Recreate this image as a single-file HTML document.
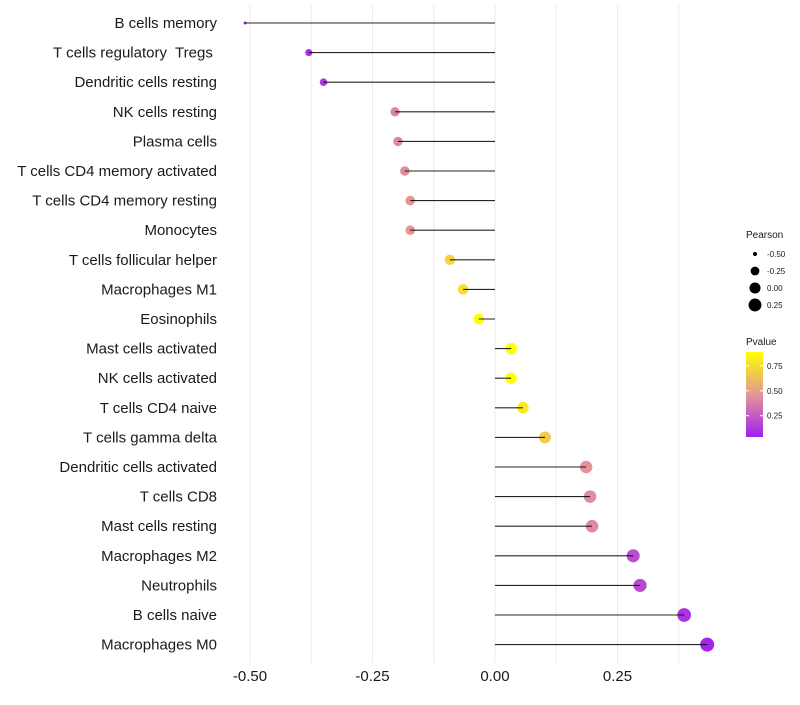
<!DOCTYPE html>
<html><head><meta charset="utf-8"><style>
body{margin:0;background:#fff;width:800px;height:700px;overflow:hidden}
svg text{font-family:"Liberation Sans",sans-serif;white-space:pre}
</style></head><body>
<svg id="chart" width="800" height="700"></svg>
<script>
const categories=["B cells memory","T cells regulatory  Tregs ","Dendritic cells resting","NK cells resting","Plasma cells","T cells CD4 memory activated","T cells CD4 memory resting","Monocytes","T cells follicular helper","Macrophages M1","Eosinophils","Mast cells activated","NK cells activated","T cells CD4 naive","T cells gamma delta","Dendritic cells activated","T cells CD8","Mast cells resting","Macrophages M2","Neutrophils","B cells naive","Macrophages M0"];
const pearson=[-0.51,-0.38,-0.35,-0.204,-0.198,-0.184,-0.173,-0.173,-0.092,-0.065,-0.033,0.033,0.033,0.057,0.102,0.186,0.194,0.198,0.282,0.296,0.386,0.433];
const pvalue=[0.03,0.1,0.12,0.4,0.41,0.43,0.46,0.46,0.72,0.76,0.9,0.9,0.9,0.8,0.68,0.45,0.43,0.42,0.2,0.18,0.1,0.05];
const xTicks=[-0.5,-0.25,0,0.25];
const xTickLabels=["-0.50","-0.25","0.00","0.25"];
const xMinor=[-0.375,-0.125,0.125,0.375];
const sizeLegend=[-0.5,-0.25,0,0.25];
const sizeLegendLabels=["-0.50","-0.25","0.00","0.25"];
const colorLegend=[0.25,0.5,0.75];

const NS="http://www.w3.org/2000/svg";
const svg=document.getElementById('chart');
function el(t,a,p){const e=document.createElementNS(NS,t);for(const k in a)e.setAttribute(k,a[k]);(p||svg).appendChild(e);return e;}
const x=v=>495+v*490;
const y=i=>23+i*29.6;
const pmin=-0.51,pmax=0.433;
const r=v=>1.5+5.5*Math.sqrt(Math.max(0,(v-pmin)/(pmax-pmin)));
const stops=[[0.036,[160,32,240]],[0.46,[228,150,150]],[0.89,[255,255,0]]];
function col(p){p=Math.max(stops[0][0],Math.min(stops[2][0],p));let a=stops[0],b=stops[1];if(p>stops[1][0]){a=stops[1];b=stops[2];}
const t=(p-a[0])/(b[0]-a[0]);const c=a[1].map((v,i)=>Math.round(v+(b[1][i]-v)*t));return `rgb(${c})`;}

[...xMinor,...xTicks].forEach(v=>{const g=el('line',{x1:x(v),x2:x(v),y1:5,y2:663,stroke:'#ebebeb','stroke-width':1});

});
xTicks.forEach((v,i)=>{const t=el('text',{x:x(v),y:681,'text-anchor':'middle','font-size':15,fill:'#1a1a1a'});t.textContent=xTickLabels[i];

});
categories.forEach((c,i)=>{
const t=el('text',{x:217,y:y(i)+5,'text-anchor':'end','font-size':15,fill:'#1a1a1a'});t.textContent=c;


const pt=el('circle',{cx:x(pearson[i]),cy:y(i),r:r(pearson[i]),fill:col(pvalue[i])});


const ln=el('line',{x1:x(0),x2:x(pearson[i]),y1:y(i),y2:y(i),stroke:'#000','stroke-width':1.1,'stroke-opacity':0.85});


});
let lt=el('text',{x:746,y:238,'font-size':10,fill:'#1a1a1a'});lt.textContent='Pearson';


sizeLegend.forEach((v,i)=>{const cy=254+i*17;
const c=el('circle',{cx:755,cy:cy,r:r(v),fill:'#000'});


const t=el('text',{x:767,y:cy+3,'font-size':8,fill:'#1a1a1a'});t.textContent=sizeLegendLabels[i];

});
lt=el('text',{x:746,y:345,'font-size':10,fill:'#1a1a1a'});lt.textContent='Pvalue';


const defs=el('defs',{});const lg=el('linearGradient',{id:'cg',x1:0,y1:1,x2:0,y2:0},defs);
stops.forEach(s=>el('stop',{offset:((s[0]-0.036)/(0.89-0.036)),'stop-color':`rgb(${s[1]})`},lg));
const bar=el('rect',{x:746,y:352,width:17,height:85,fill:'url(#cg)'});


const cy=p=>437-(p-0.036)/(0.89-0.036)*85;
colorLegend.forEach(v=>{el('line',{x1:746,x2:749,y1:cy(v),y2:cy(v),stroke:'#fff'});el('line',{x1:760,x2:763,y1:cy(v),y2:cy(v),stroke:'#fff'});
const t=el('text',{x:767,y:cy(v)+3,'font-size':8,fill:'#1a1a1a'});t.textContent=v.toFixed(2);

});
</script>
</body></html>
